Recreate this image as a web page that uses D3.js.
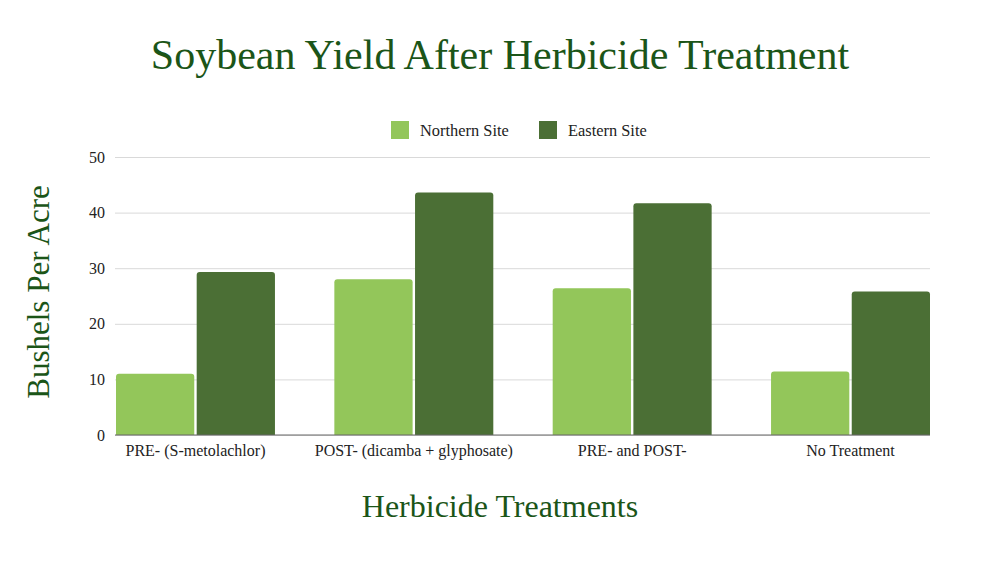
<!DOCTYPE html>
<html><head><meta charset="utf-8">
<script src="https://cdn.jsdelivr.net/npm/d3@7"></script>
<style>body{margin:0;background:#fff}svg{display:block}</style>
</head><body>
<svg id="c" width="1000" height="563"></svg>
<script>
const categories = ["PRE- (S-metolachlor)", "POST- (dicamba + glyphosate)", "PRE- and POST-", "No Treatment"];
const seriesNames = ["Northern Site", "Eastern Site"];
const northern = [11.0, 28.0, 26.4, 11.4];
const eastern = [29.3, 43.6, 41.7, 25.8];
const yTicks = [0, 10, 20, 30, 40, 50];
const colors = ["#93c65a", "#4b6f35"];

(function () {
const svg = d3.select("#c");
const font = "'Liberation Serif', 'DejaVu Serif', serif";
const green = "#1b5518";
const pLeft = 116, pRight = 930, pTop = 157, pBottom = 435;

const x0 = d3.scaleBand().domain(categories).range([pLeft, pRight]).paddingInner(0.272).paddingOuter(0);
const x1 = d3.scaleBand().domain(seriesNames).range([0, x0.bandwidth()]).paddingInner(0.03);
const y = d3.scaleLinear().domain([0, 50]).range([pBottom, pTop]);
const color = d3.scaleOrdinal().domain(seriesNames).range(colors);

svg.append("rect").attr("width", 1000).attr("height", 563).attr("fill", "#fff");

const yAxis = d3.axisLeft(y).tickValues(yTicks).tickSize(-(pRight - pLeft + 1)).tickPadding(10);
const gy = svg.append("g").attr("transform", `translate(${pLeft - 1},0)`).call(yAxis);
gy.select(".domain").remove();
gy.selectAll(".tick line").attr("stroke", "#d9d9d9").attr("stroke-width", 1);
gy.selectAll(".tick text").attr("font-family", font).attr("font-size", 16).attr("fill", "#222");

const data = categories.map((c, i) => ({cat: c, vals: [northern[i], eastern[i]]}));
const r = 3;
function barPath(x, yTop, w, yBot) {
  const rr = Math.min(r, (yBot - yTop));
  return `M${x},${yBot}V${yTop + rr}Q${x},${yTop} ${x + rr},${yTop}H${x + w - rr}Q${x + w},${yTop} ${x + w},${yTop + rr}V${yBot}Z`;
}
svg.append("g").selectAll("g").data(data).join("g")
  .attr("transform", d => `translate(${x0(d.cat)},0)`)
  .selectAll("path").data(d => d.vals.map((v, j) => ({s: seriesNames[j], v})))
  .join("path")
  .attr("d", d => barPath(x1(d.s), y(d.v), x1.bandwidth(), y(0)))
  .attr("fill", d => color(d.s));

svg.append("line").attr("x1", pLeft - 1).attr("x2", pRight).attr("y1", y(0)).attr("y2", y(0))
  .attr("stroke", "#666").attr("stroke-width", 1);

const xAxis = d3.axisBottom(x0).tickSize(0).tickPadding(10);
const gx = svg.append("g").attr("transform", `translate(0,${pBottom})`).call(xAxis);
gx.select(".domain").remove();
gx.selectAll(".tick text").attr("font-family", font).attr("font-size", 16).attr("fill", "#222");

svg.append("text").attr("x", 500).attr("y", 69).attr("text-anchor", "middle")
  .attr("font-family", font).attr("font-size", 42).attr("fill", green)
  .text("Soybean Yield After Herbicide Treatment");

svg.append("text").attr("x", 500).attr("y", 517).attr("text-anchor", "middle")
  .attr("font-family", font).attr("font-size", 32).attr("fill", green)
  .text("Herbicide Treatments");
svg.append("text").attr("transform", "translate(49,292) rotate(-90)").attr("text-anchor", "middle")
  .attr("font-family", font).attr("font-size", 31).attr("fill", green)
  .text("Bushels Per Acre");

const legX = [391, 539];
const lg = svg.append("g").selectAll("g").data(seriesNames).join("g")
  .attr("transform", (d, i) => `translate(${legX[i]},121)`);
lg.append("rect").attr("width", 18).attr("height", 18).attr("fill", d => color(d));
lg.append("text").attr("x", 29).attr("y", 14.5).attr("font-family", font).attr("font-size", 16.4)
  .attr("fill", "#222").text(d => d);
})();
</script>
</body></html>
